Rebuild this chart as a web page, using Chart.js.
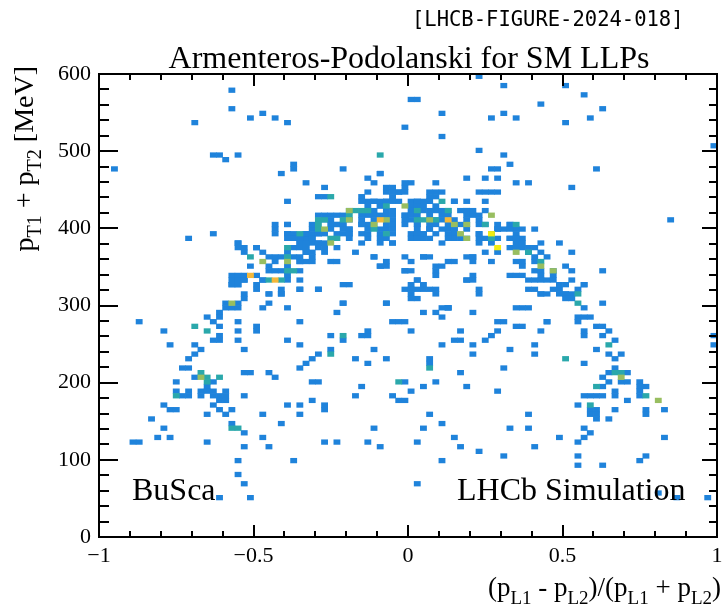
<!DOCTYPE html>
<html lang="en">
<head>
<meta charset="UTF-8">
<title>Armenteros-Podolanski for SM LLPs</title>
<script src="https://cdn.jsdelivr.net/npm/chart.js"></script>
<style>
  html, body { margin: 0; padding: 0; background: #fff; }
  #wrap { position: relative; width: 724px; height: 611px; }
  #wrap canvas { position: absolute; left: 0; top: 0; }
  .fr { position: absolute; background: #000; pointer-events: none; }
</style>
</head>
<body>
<div id="wrap"><canvas id="apChart" width="724" height="611"></canvas></div>
<script>
// TH2 binning: 100 x 100 bins
const xRange = [-1, 1];
const yRange = [0, 600];
const binW = 0.02;
const binH = 6;

const xMajorTicks = [-1, -0.5, 0, 0.5, 1];
const yMajorTicks = [0, 100, 200, 300, 400, 500, 600];

// filled cells [alpha, pT1 + pT2], grouped by entries in the bin
const cells1 = [
  // sparse, high pT
  [-0.57,578],[-0.57,555],[-0.69,537],[-0.51,542],[-0.47,548],[-0.43,542],[-0.39,537],
  [0.0,567],[-0.005,530],[-0.63,495],[-0.61,495],[-0.59,489],[-0.55,495],
  [-0.95,477],[-0.37,483],[-0.37,477],[-0.41,471],[-0.21,477],
  [-0.09,471],[-0.13,464],[-0.11,459],[-0.33,459],[-0.27,452],[-0.085,470],[-0.06,452],[-0.02,452],
  [-0.13,446],[-0.08,446],[-0.03,446],
  [0.22,596],[0.30,584],[0.50,584],[0.02,566],[0.56,573],[0.42,560],[0.62,555],[0.11,548],
  [0.26,542],[0.30,548],[0.34,542],[0.50,537],[0.58,542],[0.10,518],[0.22,500],[0.30,494],
  [0.99,505],[0.32,482],[0.26,477],[0.28,477],[0.60,477],[0.19,464],[0.24,464],[0.28,464],
  [0.34,459],[0.38,459],[0.52,452],[0.0,459],[0.08,459],[0.84,410],
  // upper band, left half
  [-0.004,458],[-0.068,452],[-0.047,446],[-0.025,446],[-0.004,446],
  [-0.285,440],[-0.263,440],
  [-0.387,435],[-0.14,436],[-0.12,433],[-0.09,433],[-0.07,436],[-0.047,436],[-0.025,436],[0.018,433],[0.035,436],
  [-0.10,428],[0.01,428],[-0.101,422],[-0.079,422],[0.012,420],
  [-0.30,417],[-0.28,417],[-0.26,417],[-0.236,417],[-0.14,415],[-0.12,415],[-0.16,415],[-0.041,415],[-0.020,415],[0.028,413],
  [-0.263,409],[0.012,409],[0.03,407],
  [-0.387,402],[-0.23,403],[-0.21,403],[-0.19,401],[-0.16,403],[-0.14,403],[-0.10,399],[-0.07,398],
  [-0.425,398],[-0.306,398],[-0.24,394],
  [-0.425,392],[-0.38,390],[-0.36,388],[-0.34,388],[-0.32,388],[-0.30,390],[-0.21,390],[-0.19,390],
  [-0.144,380],[-0.122,385],[-0.095,380],[-0.068,385],[-0.047,380],
  [0.0,392],[0.018,388],[0.035,394],
  [-0.284,380],[-0.263,380],[-0.24,376],[-0.36,378],[-0.34,376],[-0.32,378],
  [-0.549,381],[-0.527,374],[-0.484,374],[-0.462,368],[-0.435,364],[-0.413,362],
  [-0.505,350],[-0.446,360],[-0.425,357],[-0.446,352],
  [-0.38,360],[-0.36,364],[-0.34,366],[-0.32,364],[-0.35,355],[-0.33,355],[-0.25,356],[-0.23,356],
  [-0.106,363],[-0.085,352],[-0.068,350],[-0.009,344],
  [-0.565,338],[-0.549,338],[-0.527,338],[-0.484,337],[-0.462,335],
  [-0.446,346],[-0.425,346],[-0.408,342],[-0.387,342],
  [-0.565,327],[-0.549,327],[-0.527,331],[-0.484,327],[-0.484,320],
  [-0.446,316],[-0.408,322],[-0.408,316],[-0.36,333],[-0.29,320],[-0.187,327],
  [0.012,325],[0.012,316],[0.028,311],[-0.527,312],[-0.446,312],[-0.524,306],[-0.403,314],
  [-0.004,365],[-0.004,343],[-0.004,320],[-0.205,326],[-0.065,303],[-0.205,303],[-0.446,302],[-0.385,296],
  [-0.35,320],[-0.285,320],
  [-0.705,386],[-0.624,393],[-0.425,404],[-0.385,404],[-0.385,393],[-0.365,386],[-0.346,386],[-0.325,393],
  [-0.543,380],[-0.543,374],[-0.522,370],[-0.50,374],[-0.382,350],[-0.36,346],
  [-0.565,333],[-0.543,333],[-0.522,333],[-0.479,333],[-0.565,326],[-0.543,326],
  // dense core of the band
  [-0.144,440],[-0.042,440],[0.082,440],[-0.15,434],[-0.106,434],[-0.063,434],[0.061,434],
  [-0.123,428],[-0.09,428],
  [-0.187,422],[-0.042,422],[0.039,422],[0.061,422],[0.082,422],[0.104,422],[0.18,422],
  [-0.209,416],[-0.096,416],[-0.069,416],[-0.004,416],[0.018,416],[0.039,416],[0.061,416],[0.104,416],
  [0.126,416],[0.19,416],[0.212,416],[0.233,416],
  [-0.241,410],[-0.198,410],[-0.155,410],[-0.117,410],[-0.047,410],[-0.01,410],[0.061,410],[0.093,410],
  [0.19,410],[0.233,410],
  [-0.306,404],[-0.252,404],[-0.231,404],[-0.204,404],[-0.144,404],[-0.08,404],[-0.042,404],[-0.004,404],
  [0.039,404],[0.061,404],[0.099,404],[0.126,404],[0.158,404],[0.19,404],[0.298,404],[0.33,404],[0.32,404],
  [-0.247,398],[-0.214,398],[-0.187,398],[-0.139,398],[-0.058,398],[0.072,398],[0.12,398],[0.147,398],
  [0.282,398],[0.304,398],[0.357,398],
  [-0.392,391],[-0.371,389],[-0.328,391],[-0.306,391],[-0.285,391],[-0.263,391],[-0.198,391],[-0.155,391],
  [-0.123,391],[-0.09,391],[-0.042,391],[0.028,391],[0.055,391],[0.093,391],[0.147,391],[0.174,387],
  [0.233,387],[0.255,387],[0.298,387],[0.325,387],[0.341,387],[0.363,387],
  [-0.387,385],[-0.349,383],[-0.328,383],[-0.306,385],[-0.285,383],[-0.187,385],[-0.09,385],[-0.042,381],
  [0.05,385],[0.147,385],[0.223,383],[0.277,381],[0.341,381],[0.363,378],
  [-0.371,376],[-0.349,376],[-0.328,374],[-0.285,376],[-0.263,376],[0.104,378],[0.32,376],[0.341,376],[0.384,374],
  [-0.382,368],[-0.333,368],[-0.306,368],[-0.274,368],[-0.166,370],[-0.101,363],[0.055,363],[0.201,365],
  [0.255,370],[0.298,366],[0.395,368],[0.422,370],[0.444,365],
  [-0.349,355],[-0.306,356],[-0.069,355],[0.007,357],[0.196,361],[0.277,357],[0.347,357],[0.379,357],
  [-0.09,350],[0.093,344],[0.363,350],[0.406,344],[0.428,344],
  [-0.392,337],[-0.392,331],[0.028,333],[0.19,333],[0.417,333],
  [-0.349,320],[0.028,320],[0.05,320],[0.239,318],
  // upper band, right half
  [0.098,447],[0.114,447],[0.233,447],[0.276,447],[0.077,441],
  [0.023,435],[0.04,435],[0.077,435],[0.152,435],[0.195,435],[0.255,435],[0.15,434],
  [0.023,428],[0.045,428],[0.098,428],[0.130,422],[0.168,422],[0.195,422],[0.217,422],[0.24,422],[0.05,422],
  [0.114,410],[0.158,410],[0.18,398],[0.16,403],[0.22,403],[0.24,403],
  [0.222,392],[0.238,392],[0.276,392],[0.298,398],[0.32,398],[0.34,392],
  [0.379,398],[0.40,398],[0.336,385],[0.357,385],
  [0.379,376],[0.417,373],[0.438,380],[0.481,380],[0.417,361],[0.417,355],
  [0.33,337],[0.353,337],[0.374,337],[0.438,337],[0.46,337],[0.46,344],
  [0.535,368],[0.514,350],[0.535,344],[0.535,335],[0.567,327],[0.557,320],[0.633,344],
  [0.05,363],[0.136,357],[0.20,363],[0.20,357],[0.093,350],[0.093,337],[0.217,337],[0.185,335],
  [0.03,333],[0.05,327],[0.233,314],[0.098,320],[0.098,314],
  [0.395,320],[0.438,314],[0.481,320],[0.519,314],
  [0.02,398],[0.04,392],[0.06,398],[0.10,398],[0.12,392],[0.14,398],[0.02,385],[0.06,385],[0.12,385],[0.18,385],
  [0.07,446],[0.24,446],[0.28,446],
  [0.578,327],[0.46,320],[0.50,327],[0.53,314],[0.53,309],[0.42,314],[0.38,298],[0.12,298],[0.135,298],
  [0.06,320],[0.0,343],[0.015,320],[0.015,309],[0.10,350],[0.20,330],[0.14,355],[0.06,362],
  [0.394,331],[0.42,331],[0.443,331],[0.465,331],[0.405,320],[0.443,313],[0.481,324],[0.481,316],
  [0.518,313],[0.518,309],[0.362,296],[0.459,278],[0.438,266],[0.362,272],
  // right arm
  [0.557,284],[0.578,284],[0.598,284],[0.557,279],[0.578,296],[0.638,302],
  [0.578,266],[0.578,260],[0.618,272],[0.638,272],[0.657,266],[0.638,260],[0.678,254],[0.618,242],
  [0.657,236],[0.678,230],[0.699,236],[0.678,218],[0.657,212],[0.719,212],[0.638,206],[0.699,200],
  [0.719,200],[0.740,200],[0.638,194],[0.657,200],[0.756,194],[0.778,194],[0.756,188],[0.756,182],
  [0.760,164],[0.778,158],[0.821,164],[0.719,176],[0.678,182],[0.678,188],[0.678,164],[0.657,152],
  [0.578,182],[0.598,182],[0.618,182],[0.638,182],[0.557,170],[0.598,164],[0.618,164],[0.598,158],
  [0.618,158],[0.618,152],[0.578,224],[0.557,122],[0.578,129],[0.598,134],[0.578,141],
  [0.557,105],[0.557,92],[0.638,92],[0.740,97],[0.760,105],[0.821,129],
  [0.99,260],[0.99,248],[0.80,56],[0.86,50],[0.96,50],
  // left arm
  [-0.867,278],[-0.786,266],[-0.767,248],[-0.686,248],
  [-0.646,283],[-0.624,278],[-0.608,290],[-0.608,283],
  [-0.587,301],[-0.543,301],[-0.587,294],[-0.565,294],[-0.543,294],
  [-0.603,272],[-0.603,259],[-0.624,254],[-0.603,254],
  [-0.543,278],[-0.543,266],[-0.543,254],[-0.484,272],[-0.484,266],
  [-0.466,296],[-0.346,278],[-0.385,254],[-0.346,248],
  [-0.527,242],[-0.667,242],[-0.686,236],[-0.705,229],[-0.727,218],[-0.705,218],
  [-0.746,200],[-0.746,188],[-0.727,182],[-0.705,182],[-0.705,188],
  [-0.686,206],[-0.646,195],[-0.624,200],
  [-0.667,188],[-0.667,182],[-0.646,188],[-0.624,188],[-0.624,182],[-0.608,182],[-0.587,188],[-0.587,182],
  [-0.786,170],[-0.767,164],[-0.746,164],[-0.829,152],[-0.786,141],[-0.808,129],[-0.767,129],
  [-0.889,122],[-0.869,122],
  [-0.646,158],[-0.624,170],[-0.608,164],[-0.587,158],[-0.565,164],[-0.608,175],[-0.587,175],
  [-0.565,146],[-0.527,134],[-0.527,117],[-0.646,122],
  [-0.543,97],[-0.543,80],[-0.527,68],[-0.608,50],[-0.505,50],
  [-0.527,213],[-0.505,213],[-0.446,213],[-0.425,206],
  [-0.527,182],[-0.466,158],[-0.466,129],[-0.446,117],[-0.405,146],[-0.365,97],
  [-0.346,170],[-0.346,158],[-0.385,170],[-0.306,176],
  [-0.346,218],[-0.328,225],[-0.306,230],[-0.285,236],[-0.306,200],[-0.285,200],
  [-0.263,170],[-0.263,164],[-0.263,122],[-0.225,122],[-0.247,242],
  [-0.204,254],[-0.225,290],[-0.204,302],[-0.247,260],
  [-0.166,230],[-0.125,224],[-0.144,194],[-0.166,182],[-0.103,242],
  [-0.125,260],[-0.144,260],[-0.125,266],
  [-0.063,302],[-0.047,278],[-0.025,278],[-0.063,230],[-0.045,182],[-0.025,176],[-0.004,200],
  [-0.103,141],[-0.125,122],[-0.085,117],
  // centre, low pT
  [0.017,266],[0.055,290],[0.096,290],[0.114,296],[0.136,296],[0.114,284],[0.217,290],[0.357,296],
  [0.298,278],[0.317,278],[0.357,272],[0.298,266],[0.278,260],[0.257,254],[0.174,266],[0.152,254],
  [0.174,254],[0.114,248],[0.217,248],[0.217,236],[0.338,242],[0.417,248],[0.417,236],[0.458,278],[-0.02,278],
  [0.077,229],[0.077,224],[0.317,218],[0.174,213],
  [0.017,188],[0.055,194],[0.096,200],[0.195,194],[0.298,188],[-0.02,176],[0.077,158],[0.055,141],
  [0.114,146],[0.037,122],[0.152,129],[0.174,117],[0.236,110],[0.114,97],[0.317,105],[0.037,68],
  [0.338,141],[0.397,141],[0.397,158],[0.417,117],[0.497,129]
];
const cells2 = [
  [-0.09,495],[-0.244,440],[-0.166,422],[-0.144,422],[-0.122,422],[-0.063,428],[-0.284,409],[-0.203,411],
  [-0.284,398],[-0.25,387],[-0.23,387],[-0.505,363],[-0.446,332],[-0.404,332],[-0.12,403],
  [0.114,435],[0.028,422],[0.023,410],[0.05,410],[0.098,410],[0.357,403],[0.395,370],[0.438,355],[0.557,312],
  [0.557,303],[0.657,248],[0.678,212],[0.699,212],[0.618,194],[0.778,182],[0.598,170],[0.519,230],
  [-0.686,272],[-0.646,266],[-0.746,182],[-0.667,212],[-0.646,206],[-0.646,200],[-0.608,206],
  [-0.565,141],[-0.543,141],[-0.247,236],[-0.204,260],[-0.025,200],[0.077,218],
  [0.136,422],[-0.182,416],[-0.268,410],[0.255,404],[-0.285,404],[-0.101,398],
  [-0.349,391],[-0.063,391],[0.277,387],[-0.398,376],[-0.387,361],[-0.392,344],[-0.365,344]
];
const cells3 = [
  [-0.198,422],[-0.009,428],[-0.063,410],[-0.182,409],[-0.263,396],[-0.468,357],[-0.40,355],
  [0.276,417],[0.077,410],[0.196,403],[0.357,368],[0.438,350],[0.476,344],[0.699,206],[0.800,176],
  [-0.565,301],[-0.667,206],[0.152,404],[-0.106,404],[0.174,393],[0.196,387],[-0.247,381]
];
const cells4 = [[-0.505,338],[-0.425,332],[-0.085,410],[0.136,410]];
const cells5 = [[0.26,392],[0.298,373]];

const levels = [cells5, cells4, cells3, cells2, cells1];
const levelColors = ['#f2ec12', '#f4b83a', '#98be60', '#2aa8ab', '#1f83db'];

// put each cell into its histogram bin
function toBins(cells) {
  return cells.map(([x, y]) => {
    const ix = Math.floor((x - xRange[0]) / binW + 1e-9);
    const iy = Math.floor((y - yRange[0]) / binH);
    return { x: xRange[0] + (ix + 0.5) * binW, y: [yRange[0] + iy * binH, yRange[0] + (iy + 1) * binH] };
  });
}

const serif = '"Liberation Serif", "Times New Roman", serif';

function fmtTick(v) {
  return v < 0 ? '\u2212' + Math.abs(v) : String(v);
}

// frame + inward ticks as a list of rectangles [x, y, w, h] taken from the chart scales
function frameRects(chart) {
  const a = chart.chartArea;
  const sx = chart.scales.x;
  const sy = chart.scales.y;
  const L = Math.round(a.left), R = Math.round(a.right), T = Math.round(a.top), B = Math.round(a.bottom);
  const rects = [
    [L - 1, T - 1, R - L + 2, 2], [L - 1, B - 1, R - L + 2, 2],
    [L - 1, T - 1, 2, B - T + 2], [R - 1, T - 1, 2, B - T + 2]
  ];
  for (let i = 0; i <= 20; i++) {
    const px = Math.round(sx.getPixelForValue(xRange[0] + i * 0.1));
    const len = i % 5 === 0 ? 12 : 6;
    rects.push([px - 1, B - len, 2, len], [px - 1, T, 2, len]);
  }
  for (let i = 0; i <= 30; i++) {
    const py = Math.round(sy.getPixelForValue(yRange[0] + i * 20));
    const major = i % 5 === 0;
    const l1 = major ? 19 : 10;
    const l2 = major ? 15 : 8;
    rects.push([L, py - 1, l1, 2], [R - l2, py - 1, l2, 2]);
  }
  return rects;
}

// text with subscripts, parts = [text, isSub]
function drawRich(ctx, parts, x, y, size, align) {
  const sub = Math.round(size * 0.7);
  const widths = parts.map(([t, s]) => {
    ctx.font = (s ? sub : size) + 'px ' + serif;
    return ctx.measureText(t).width;
  });
  const total = widths.reduce((s, w) => s + w, 0);
  let cx = align === 'right' ? x - total : x;
  ctx.textAlign = 'left';
  ctx.textBaseline = 'alphabetic';
  parts.forEach(([t, s], i) => {
    ctx.font = (s ? sub : size) + 'px ' + serif;
    ctx.fillText(t, cx, s ? y + size * 0.3 : y);
    cx += widths[i];
  });
}

const decorations = {
  id: 'decorations',
  afterDraw(chart) {
    const ctx = chart.ctx;
    ctx.save();
    ctx.fillStyle = '#000';
    frameRects(chart).forEach(([x, y, w, h]) => ctx.fillRect(x, y, w, h));

    ctx.font = '20.5px "DejaVu Sans Mono", monospace';
    ctx.textAlign = 'left';
    ctx.textBaseline = 'alphabetic';
    ctx.fillText('[LHCB-FIGURE-2024-018]', 412, 26);

    ctx.font = '32px ' + serif;
    ctx.textAlign = 'center';
    ctx.fillText('Armenteros-Podolanski for SM LLPs', 409, 68);

    ctx.textAlign = 'left';
    ctx.fillText('BuSca', 132, 500);
    ctx.fillText('LHCb Simulation', 457, 500);

    drawRich(ctx, [['(p'], ['L1', 1], [' - p'], ['L2', 1], [')/(p'], ['L1', 1], [' + p'], ['L2', 1], [')']],
      721, 596, 27, 'right');

    ctx.save();
    ctx.translate(33, 66);
    ctx.rotate(-Math.PI / 2);
    drawRich(ctx, [['p'], ['T1', 1], [' + p'], ['T2', 1], [' [MeV]']], 0, 0, 28, 'right');
    ctx.restore();
    ctx.restore();
  }
};

const chart = new Chart(document.getElementById('apChart'), {
  type: 'bar',
  data: {
    datasets: levels.map((cells, i) => ({
      data: toBins(cells),
      backgroundColor: levelColors[i],
      borderWidth: 0,
      barThickness: 6.2,
      grouped: false
    }))
  },
  options: {
    responsive: false,
    animation: false,
    devicePixelRatio: 1,
    layout: { padding: { top: 74, right: 7, left: 0, bottom: 0 } },
    plugins: { legend: { display: false }, tooltip: { enabled: false } },
    scales: {
      x: {
        type: 'linear',
        min: xRange[0],
        max: xRange[1],
        offset: false,
        grid: { display: false, drawTicks: false },
        border: { display: true, color: '#000', width: 2 },
        afterBuildTicks: s => { s.ticks = xMajorTicks.map(v => ({ value: v })); },
        afterFit: s => { s.height = 74; s.paddingLeft = 0; s.paddingRight = 0; },
        ticks: {
          padding: 6,
          color: '#000',
          font: { family: serif, size: 22 },
          maxRotation: 0,
          callback: v => fmtTick(v)
        }
      },
      y: {
        type: 'linear',
        min: yRange[0],
        max: yRange[1],
        grid: { display: false, drawTicks: false },
        border: { display: true, color: '#000', width: 2 },
        afterBuildTicks: s => { s.ticks = yMajorTicks.map(v => ({ value: v })); },
        afterFit: s => { s.width = 99; s.paddingTop = 0; s.paddingBottom = 0; },
        ticks: {
          padding: 8,
          color: '#000',
          font: { family: serif, size: 22 },
          callback: v => fmtTick(v)
        }
      }
    }
  },
  plugins: [decorations]
});

// same frame also as page elements over the canvas, placed from the chart's scales
const wrap = document.getElementById('wrap');
frameRects(chart).forEach(([x, y, w, h]) => {
  const d = document.createElement('div');
  d.className = 'fr';
  d.style.left = x + 'px';
  d.style.top = y + 'px';
  d.style.width = w + 'px';
  d.style.height = h + 'px';
  wrap.appendChild(d);
});
</script>
</body>
</html>
